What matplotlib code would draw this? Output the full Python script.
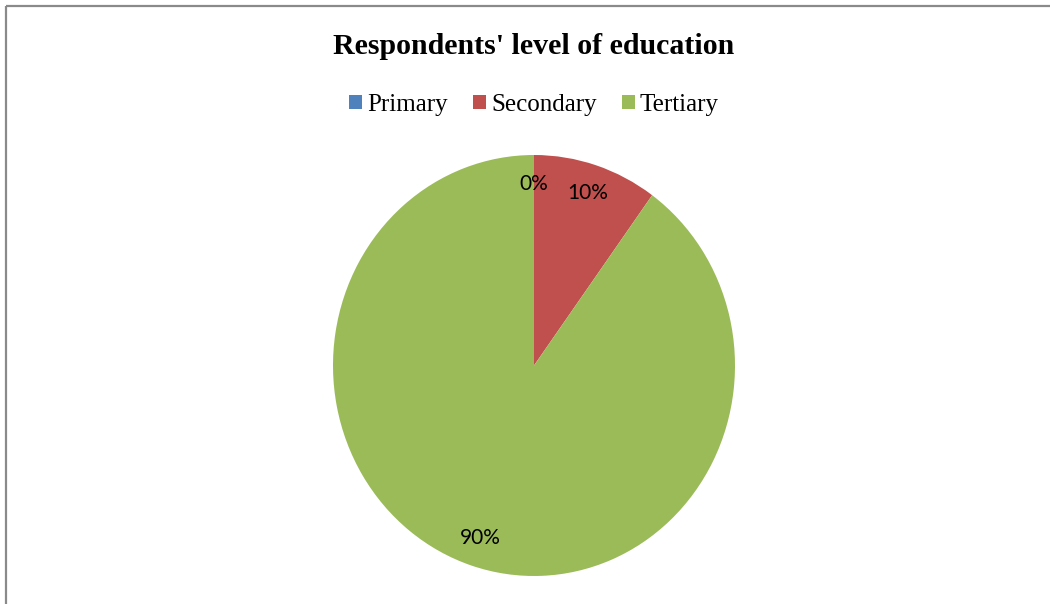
import matplotlib
matplotlib.use("Agg")
import matplotlib.pyplot as plt
from matplotlib.patches import Patch
from matplotlib.lines import Line2D

# Education level shares (%)
categories = ["Primary", "Secondary", "Tertiary"]
shares = [0, 10, 90]
colors = ["#4F81BD", "#C0504D", "#9BBB59"]

W, H = 1050, 604
fig = plt.figure(figsize=(W / 100, H / 100), dpi=100)
fig.patch.set_facecolor("white")

# Pie axes: centre at (534, 365.5) px, horizontal radius 201 px, vertical 210.5 px
cx, cy, rx, ry = 534, 365.5, 201, 210.5
ax = fig.add_axes([(cx - rx) / W, (H - cy - ry) / H, 2 * rx / W, 2 * ry / H])
wedges, texts, autotexts = ax.pie(
    shares,
    colors=colors,
    startangle=90,
    counterclock=False,
    autopct=lambda p: f"{p:.0f}%",
    pctdistance=0.86,
    wedgeprops=dict(linewidth=0),
    textprops=dict(family=["Lato", "DejaVu Sans"], fontsize=15, color="black"),
)
ax.set_xlim(-1, 1)
ax.set_ylim(-1, 1)
ax.set_aspect("auto")
ax.axis("off")

# Title
fig.text(cx / W, 1 - 47 / H, "Respondents' level of education",
         ha="center", va="center", family="Liberation Serif",
         fontweight="bold", fontsize=21.5)

# Legend
handles = [Patch(facecolor=c, edgecolor="none", label=l)
           for c, l in zip(colors, categories)]
fig.legend(handles=handles, loc="center", ncol=3,
           bbox_to_anchor=(cx / W, 1 - 105 / H), frameon=False,
           prop=dict(family="Liberation Serif", size=18),
           handlelength=0.52, handleheight=0.52, handletextpad=0.2,
           columnspacing=1.0, borderaxespad=0)

# Chart frame (left and top edges)
frame_color = "#8A8A8A"
fig.add_artist(Line2D([6 / W, 6 / W], [0, 1 - 6 / H], transform=fig.transFigure,
                      color=frame_color, linewidth=1.6, solid_capstyle="butt"))
fig.add_artist(Line2D([6 / W, 1], [1 - 6 / H, 1 - 6 / H], transform=fig.transFigure,
                      color=frame_color, linewidth=1.6, solid_capstyle="butt"))

fig.savefig("out.png", dpi=100, facecolor="white")
